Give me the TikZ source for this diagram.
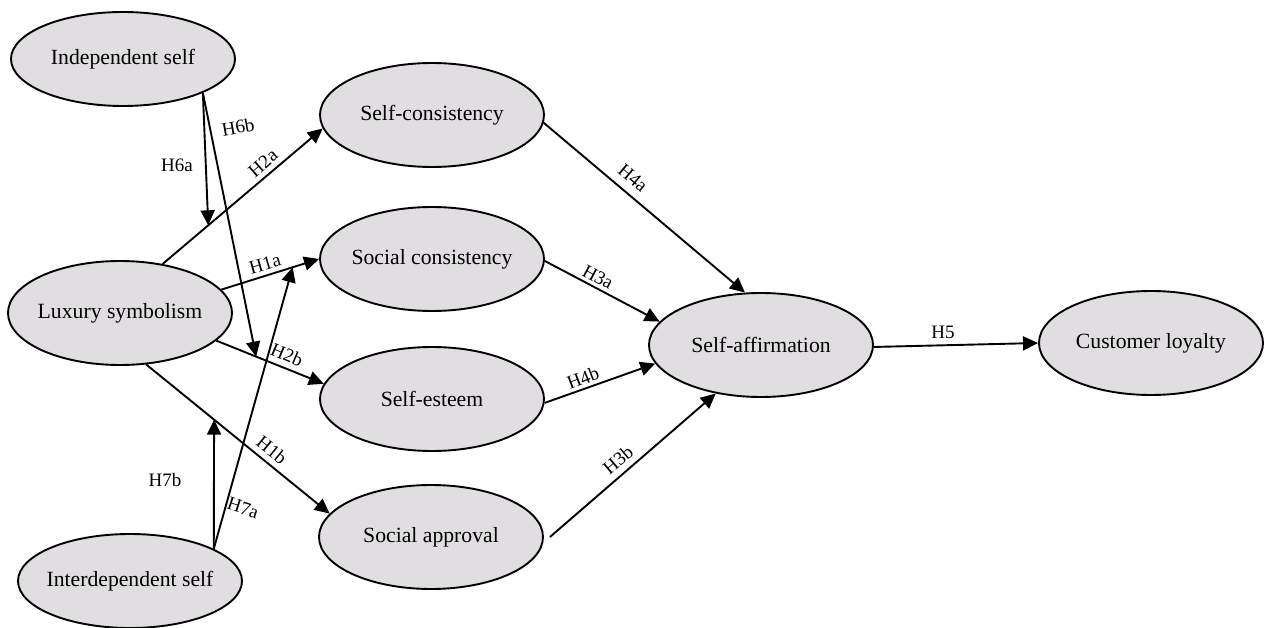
\documentclass[tikz,border=0pt]{standalone}
\usepackage{fontspec}
\setmainfont{Liberation Serif}
\usetikzlibrary{shapes.geometric,arrows.meta}
\definecolor{nodefill}{RGB}{224,222,224}
\begin{document}
\begin{tikzpicture}[x=1pt,y=-1pt,
  cons/.style={ellipse,draw=black,line width=1.9pt,fill=nodefill,minimum width=224pt,minimum height=104pt,inner sep=0pt,font=\fontsize{21.7}{24}\selectfont},
  link/.style={line width=1.9pt,-{Triangle[length=15pt,width=14pt]}},
  hyp/.style={font=\fontsize{19}{21}\selectfont,inner sep=0pt}]
\useasboundingbox (0,0) rectangle (1270,628);
% constructs
\node[cons,minimum height=94pt] (indep) at (123,59) {\makebox[0pt]{Independent self}};
\node[cons] (lux) at (120,313) {\makebox[0pt]{Luxury symbolism}};
\node[cons,minimum height=94pt] (inter) at (130,581) {\makebox[0pt]{Interdependent self}};
\node[cons] (scons) at (432,115) {\makebox[0pt]{Self-consistency}};
\node[cons] (socc) at (432,259) {\makebox[0pt]{Social consistency}};
\node[cons] (sest) at (432,399) {\makebox[0pt]{Self-esteem}};
\node[cons] (sapp) at (431,537) {\makebox[0pt]{Social approval}};
\node[cons] (saff) at (761,345) {\makebox[0pt]{Self-affirmation}};
\node[cons] (loyal) at (1151,343) {\makebox[0pt]{Customer loyalty}};
% main paths
\draw[link] (lux.49) -- coordinate[pos=0.285] (m2a) (scons.187);
\draw[link] (lux.13.5) -- coordinate[pos=0.73] (m1a) (socc.180);
\draw[link] (lux.-16) -- coordinate[pos=0.37] (m2b) (sest.172.5);
\draw[link] (lux.-63) -- coordinate[pos=0.37] (m1b) (sapp.167);
\draw[link] (scons.-4) -- (saff.107);
\draw[link] (socc.-1.5) -- (saff.167);
\draw[link] (sest.-2) -- (saff.190);
\draw[link] ([xshift=6pt]sapp.east) -- (saff.227);
\draw[link] (saff.-1) -- (loyal.180);
% moderation paths
\draw[link] (indep.-23.5) -- (m2a);
\draw[link] (indep.-23.5) -- (m2b);
\draw[link] (inter.21.7) -- (m1b);
\draw[link] (inter.21.7) -- (m1a);
% labels
\node[hyp] (l6a) at (177,165) {H6a};
\node[hyp,rotate=10] (l6b) at (238,127) {H6b};
\node[hyp,rotate=41] (l2a) at (263,163) {H2a};
\node[hyp,rotate=16] (l1a) at (265,264) {H1a};
\node[hyp,rotate=-23] (l2b) at (287,355) {H2b};
\node[hyp,rotate=-39] (l1b) at (272,450) {H1b};
\node[hyp] (l7b) at (165,480) {H7b};
\node[hyp,rotate=-18] (l7a) at (243,508) {H7a};
\node[hyp,rotate=-40] (l4a) at (633,178) {H4a};
\node[hyp,rotate=-28] (l3a) at (598,277) {H3a};
\node[hyp,rotate=21] (l4b) at (583,378) {H4b};
\node[hyp,rotate=40] (l3b) at (618,460) {H3b};
\node[hyp] (l5) at (943,332) {H5};
\end{tikzpicture}
\end{document}
